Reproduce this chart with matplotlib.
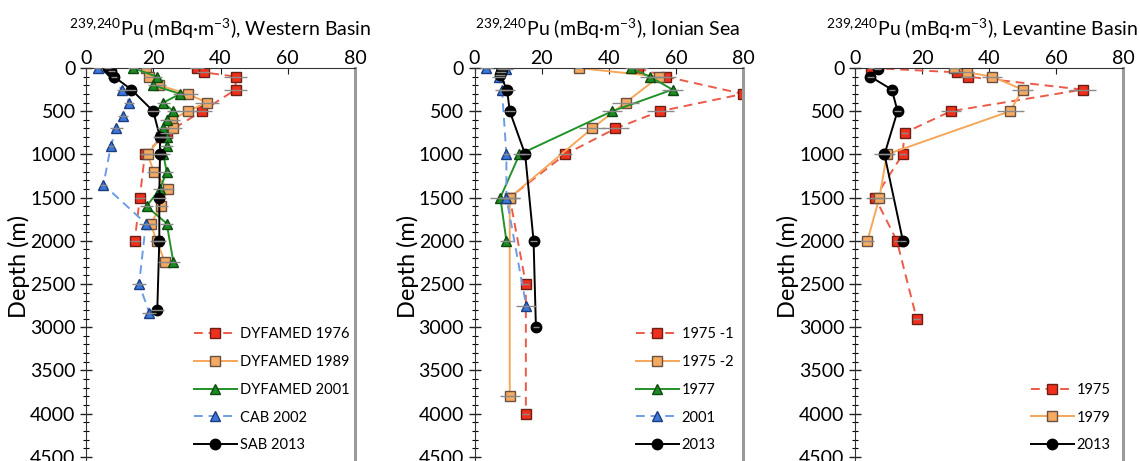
import matplotlib
matplotlib.use("Agg")
import matplotlib.pyplot as plt
from matplotlib.ticker import MultipleLocator

plt.rcParams['font.family'] = ['Lato', 'DejaVu Sans']

# Western Basin
wb_76_depth = [0, 50, 100, 250, 500, 750, 1000, 1500, 2000]
wb_76_pu = [33, 35, 44.5, 44.5, 34.5, 24, 17.5, 16, 14.5]
wb_76_err = [2, 2, 3.5, 3.5, 3, 2, 1.5, 1.5, 1.5]

wb_89_depth = [0, 100, 200, 300, 400, 500, 600, 700, 800, 1000, 1200, 1400, 1600, 1800, 2000, 2250]
wb_89_pu = [17.8, 18.7, 21.8, 30.2, 36, 30.2, 25.5, 26, 22.3, 18.3, 20.2, 24.3, 22.4, 19.2, 21, 23.5]
wb_89_err = [1.5, 1.5, 2, 3, 3.5, 3, 2.5, 2.5, 2, 2, 2, 2, 2, 2, 2, 2]

wb_01_depth = [0, 100, 200, 300, 400, 500, 600, 700, 800, 900, 1000, 1200, 1400, 1600, 1800, 2250]
wb_01_pu = [14, 21, 20, 28, 23, 26, 24, 23, 24, 24, 23, 24, 22, 18, 24, 26]
wb_01_err = [1.5, 1.5, 1.5, 2, 2, 2, 2, 2, 2, 2, 2, 2, 2, 2, 2, 2]

wb_02_depth = [0, 250, 400, 550, 700, 900, 1350, 1800, 2500, 2830]
wb_02_pu = [3.5, 10.8, 12.8, 11, 9, 7.4, 5.2, 17.8, 15.8, 18.8]
wb_02_err = [1, 1.5, 1.5, 1.5, 2, 1, 1, 2, 2, 2]

wb_13_depth = [0, 30, 100, 250, 500, 800, 1000, 1500, 2000, 2800]
wb_13_pu = [6.5, 7.5, 8.3, 13.5, 20, 22, 22, 21.8, 21.8, 21.2]
wb_13_err = [1, 1, 1, 1.5, 2, 2, 2, 2, 2, 2]

# Ionian Sea
is_75a_depth = [0, 100, 300, 500, 700, 1000, 1500, 2500, 4000]
is_75a_pu = [48.6, 57, 80, 55.3, 42, 27, 10.5, 15.3, 15.3]
is_75a_err = [3, 3, 0, 4, 4, 2, 3, 1, 1]

is_75b_depth = [0, 100, 400, 700, 1500, 3800]
is_75b_pu = [31, 55, 45, 35, 10.5, 10.5]
is_75b_err = [1, 3, 4, 4, 3, 3]

is_77_depth = [0, 100, 250, 500, 1000, 1500, 2000]
is_77_pu = [46.7, 52.2, 59, 41, 13.4, 7.7, 9.5]
is_77_err = [2, 3, 3, 3, 2, 3, 2]

is_01_depth = [0, 10, 100, 250, 1000, 1500, 2750]
is_01_pu = [3.5, 9.5, 7.2, 8.2, 9.5, 9.5, 15.4]
is_01_err = [2, 2, 2, 2, 1, 1, 3]

is_13_depth = [15, 50, 80, 250, 500, 1000, 2000, 3000]
is_13_pu = [8.2, 7.9, 7.6, 9.7, 10.5, 15.1, 17.6, 18.3]
is_13_err = [1.5, 1.5, 1.5, 2.5, 1.5, 1.5, 1, 1]

# Levantine Basin
lb_75_depth = [0, 50, 100, 250, 500, 750, 1000, 1500, 2000, 2900]
lb_75_pu = [4.8, 30.4, 33.6, 68, 28.6, 14.8, 14.2, 6, 12.5, 18.4]
lb_75_err = [1, 2, 2, 4, 3, 1, 1, 2, 1, 1]

lb_79_depth = [0, 50, 100, 250, 500, 1000, 1500, 2000]
lb_79_pu = [29.7, 33.4, 41, 50, 46.3, 9.5, 7.3, 3.7]
lb_79_err = [1.5, 2, 3, 3, 4, 2, 4, 2]

lb_13_depth = [10, 100, 250, 500, 1000, 2000]
lb_13_pu = [6.8, 4.6, 11, 12.7, 8.8, 14.3]
lb_13_err = [1, 1, 1, 1, 3, 1]

RED = dict(color='#ec5a48', ls=(0, (4.5, 3)), marker='s', mfc='#f0301c', mec='#6a2015', ms=6.5)
ORANGE = dict(color='#f6a75a', ls='-', marker='s', mfc='#f5aa62', mec='#6a5040', ms=6.5)
GREEN = dict(color='#23922a', ls='-', marker='^', mfc='#1c8a20', mec='#0c4a10', ms=7)
BLUE = dict(color='#6c9ce8', ls=(0, (4.5, 3)), marker='^', mfc='#3c78d8', mec='#1c3c80', ms=7)
BLACK = dict(color='black', ls='-', marker='o', mfc='black', mec='black', ms=7.5)

fig = plt.figure(figsize=(11.4, 4.61), dpi=100)

W, H = 1140, 461
px_per_m = 0.0864
ybot = 4600
panels = [
    (86, 269, 220, "Western Basin", [
        (wb_76_pu, wb_76_depth, wb_76_err, RED, "DYFAMED 1976"),
        (wb_89_pu, wb_89_depth, wb_89_err, ORANGE, "DYFAMED 1989"),
        (wb_01_pu, wb_01_depth, wb_01_err, GREEN, "DYFAMED 2001"),
        (wb_02_pu, wb_02_depth, wb_02_err, BLUE, "CAB 2002"),
        (wb_13_pu, wb_13_depth, wb_13_err, BLACK, "SAB 2013"),
    ], (1.0, 0.018)),
    (474.5, 268.5, 608, "Ionian Sea", [
        (is_75a_pu, is_75a_depth, is_75a_err, RED, "1975 -1"),
        (is_75b_pu, is_75b_depth, is_75b_err, ORANGE, "1975 -2"),
        (is_77_pu, is_77_depth, is_77_err, GREEN, "1977"),
        (is_01_pu, is_01_depth, is_01_err, BLUE, "2001"),
        (is_13_pu, is_13_depth, is_13_err, BLACK, "2013"),
    ], (0.985, 0.018)),
    (855, 268, 982, "Levantine Basin", [
        (lb_75_pu, lb_75_depth, lb_75_err, RED, "1975"),
        (lb_79_pu, lb_79_depth, lb_79_err, ORANGE, "1979"),
        (lb_13_pu, lb_13_depth, lb_13_err, BLACK, "2013"),
    ], (0.975, 0.018)),
]

for left, width, tx, name, series, legpos in panels:
    top = 68
    hpx = ybot * px_per_m
    ax = fig.add_axes([left / W, (H - top - hpx) / H, width / W, hpx / H])
    for x, d, e, st, lab in series:
        ax.errorbar(x, d, xerr=e, fmt='none', ecolor='#8a8a8a', elinewidth=1, capsize=0, zorder=3)
        ax.plot(x, d, lw=1.4, label=lab, zorder=2, **st)
    ax.set_xlim(0, 80)
    ax.set_ylim(ybot, 0)
    ax.xaxis.tick_top()
    ax.xaxis.set_major_locator(MultipleLocator(20))
    ax.yaxis.set_major_locator(MultipleLocator(500))
    ax.yaxis.set_minor_locator(MultipleLocator(100))
    ax.tick_params(axis='both', labelsize=14, colors='#222222', labelcolor='black')
    ax.tick_params(axis='y', which='major', direction='inout', length=8, width=1)
    ax.tick_params(axis='y', which='minor', direction='inout', length=5, width=0.8)
    ax.tick_params(axis='x', which='major', direction='in', length=4, pad=1)
    ax.spines['bottom'].set_visible(False)
    ax.spines['right'].set_color('#9a9a9a')
    ax.spines['right'].set_linewidth(2.2)
    ax.spines['left'].set_color('#333333')
    ax.spines['top'].set_color('#333333')
    ax.set_ylabel("Depth (m)", fontsize=17, labelpad=0)
    fig.text(tx / W, 1 - 29 / H,
             r"$^{\mathregular{239{,}240}}$Pu (mBq·m$^{\mathregular{-3}}$), " + name,
             ha='center', va='center', fontsize=14)
    ax.legend(loc='lower right', bbox_to_anchor=legpos, frameon=False, fontsize=10.5,
              handlelength=2.9, handletextpad=0.2, labelspacing=0.95, numpoints=1,
              borderaxespad=0)

fig.savefig("out.png", dpi=100)
